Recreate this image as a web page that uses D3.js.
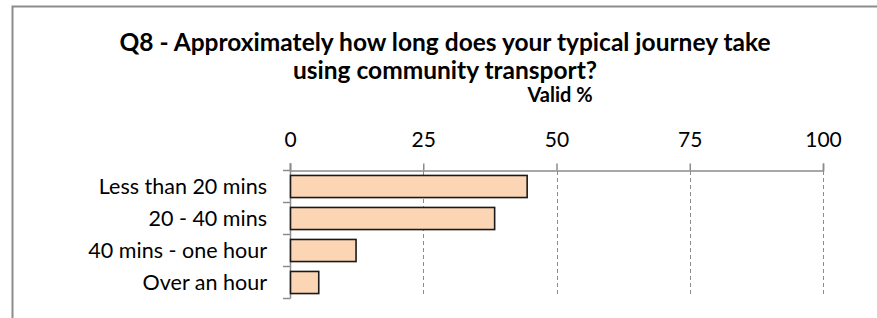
<!DOCTYPE html>
<html>
<head>
<meta charset="utf-8">
<script src="https://d3js.org/d3.v7.min.js"></script>
<style>
  body { margin: 0; background: #fff; }
  text { font-family: Lato, "Open Sans", sans-serif; fill: #000; }
</style>
</head>
<body>
<svg width="877" height="318"></svg>
<script>
var categories = ["Less than 20 mins", "20 - 40 mins", "40 mins - one hour", "Over an hour"];
var values = [44.4, 38.3, 12.3, 5.3];
var tickValues = [0, 25, 50, 75, 100];
var titleLines = ["Q8 - Approximately how long does your typical journey take", "using community transport?"];
var axisTitle = "Valid %";

var svg = d3.select("svg");

// chart frame (only left and top edges are in view)
svg.append("path")
    .attr("d", "M12.5,318 V6.5 H877")
    .attr("fill", "none")
    .attr("stroke", "#8c8c8c")
    .attr("stroke-width", 2);

var x = d3.scaleLinear().domain([0, 100]).range([290, 823]);
var y = d3.scaleBand().domain(categories).range([170.5, 298.5]).paddingInner(0.31).paddingOuter(0.155);

// dashed gridlines
svg.append("g").selectAll("line")
    .data(tickValues.slice(1))
    .join("line")
    .attr("x1", d => Math.round(x(d)) + 0.5)
    .attr("x2", d => Math.round(x(d)) + 0.5)
    .attr("y1", 171)
    .attr("y2", 297)
    .attr("stroke", "#8c8c8c")
    .attr("stroke-dasharray", "4,3");

// top axis
var xAxis = svg.append("g")
    .attr("transform", "translate(0,170.5)")
    .call(d3.axisTop(x).tickValues(tickValues).tickSize(7).tickPadding(17));
xAxis.select(".domain").attr("stroke", "#8c8c8c").attr("stroke-width", 1.5);
xAxis.selectAll(".tick line").attr("stroke", "#8c8c8c").attr("stroke-width", 1.5);
xAxis.selectAll(".tick text")
    .style("font-family", "Lato, sans-serif")
    .attr("font-size", 21)
    .attr("fill", "#000");

// left axis (category boundaries)
var left = svg.append("g");
left.append("line")
    .attr("x1", 290.5).attr("x2", 290.5)
    .attr("y1", 163).attr("y2", 298.5)
    .attr("stroke", "#8c8c8c").attr("stroke-width", 1.5);
var bandStep = y.step();
left.selectAll(".bt")
    .data(d3.range(categories.length + 1))
    .join("line")
    .attr("x1", 283).attr("x2", 290.5)
    .attr("y1", i => 170.5 + i * bandStep)
    .attr("y2", i => 170.5 + i * bandStep)
    .attr("stroke", "#8c8c8c").attr("stroke-width", 1.5);

// category labels
svg.append("g").selectAll("text")
    .data(categories)
    .join("text")
    .attr("x", 267)
    .attr("y", d => y(d) + y.bandwidth() / 2)
    .attr("dy", "0.36em")
    .attr("text-anchor", "end")
    .attr("font-size", 21.5)
    .text(d => d);

// bars
svg.append("g").selectAll("rect")
    .data(values)
    .join("rect")
    .attr("x", x(0) + 0.5)
    .attr("y", (d, i) => y(categories[i]))
    .attr("width", d => x(d) - x(0))
    .attr("height", y.bandwidth())
    .attr("fill", "#fcd5b4")
    .attr("stroke", "#1a1a1a")
    .attr("stroke-width", 1.6);

// titles
svg.append("g").selectAll("text")
    .data(titleLines)
    .join("text")
    .attr("x", 445)
    .attr("y", (d, i) => 51 + i * 28)
    .attr("text-anchor", "middle")
    .attr("font-size", 24.5)
    .attr("font-weight", "bold")
    .text(d => d);

svg.append("text")
    .attr("x", 560)
    .attr("y", 102)
    .attr("text-anchor", "middle")
    .attr("font-size", 20)
    .attr("font-weight", "bold")
    .text(axisTitle);
</script>
</body>
</html>
